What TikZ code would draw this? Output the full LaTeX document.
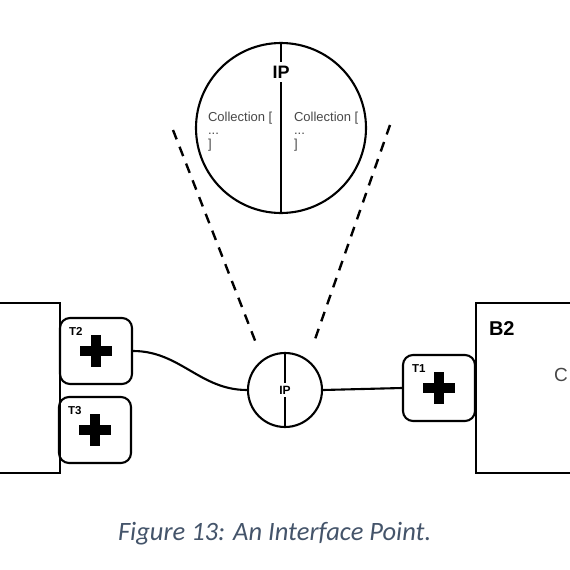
\documentclass[tikz,border=0pt]{standalone}
\usepackage{fontspec}
\setmainfont{Liberation Sans}
\newfontfamily\capfont{Carlito}
\usetikzlibrary{calc}
\usetikzlibrary{positioning}

\definecolor{captionblue}{HTML}{44546A}
\definecolor{textgray}{HTML}{474747}

\begin{document}
\begin{tikzpicture}[x=1pt, y=-1pt, line width=2.1pt,
    block/.style={rectangle, draw=black, minimum width=80pt, minimum height=170pt, inner sep=0pt},
    term/.style={rectangle, draw=black, rounded corners=10pt, minimum width=72pt, minimum height=66pt, inner sep=0pt},
    tlabel/.style={font=\fontsize{11.5}{12}\selectfont\bfseries, inner sep=0pt},
    ip/.style={circle, draw=black, inner sep=0pt},
    coll/.style={font=\fontsize{13}{13.5}\selectfont, text=textgray, align=left, anchor=north west, inner sep=0pt}]
    \clip (0, 0) rectangle (570, 570);
    % blocks
    \node[block] (B1) at (20, 388) {};
    \node[block, minimum width=124pt] (B2) at (538, 388) {};
    \node[font=\fontsize{20}{22}\selectfont\bfseries, anchor=west, inner sep=0pt] (B2name) at (488, 329) {B2};
    \node[font=\fontsize{19}{22}\selectfont, text=textgray, anchor=west, inner sep=0pt] (B2text) at (553, 375) {C};
    % terminals
    \foreach \n/\x/\y in {T2/96/351, T3/95/430, T1/439/388}
    {
        \node[term] (\n) at (\x, \y) {};
        \draw[line width=9.5pt] ($(\n) + (-16, 0)$) -- ($(\n) + (16, 0)$);
        \draw[line width=9.5pt] ($(\n) + (0, -16)$) -- ($(\n) + (0, 16)$);
        \node[tlabel, anchor=west] (lbl\n) at ($(\n.north west) + (9, 15)$) {\n};
    }
    % interface point
    \node[ip, minimum size=74pt] (ip) at (285, 390) {};
    \node[font=\fontsize{12}{12}\selectfont\bfseries, inner sep=2pt] (iptext) at (ip) {IP};
    \draw (ip.north) -- (iptext.north);
    \draw (iptext.south) -- (ip.south);
    \draw (T2.east) to[out=0, in=180] (ip.west);
    \draw (ip.east) -- (T1.west);
    % zoomed view
    \node[ip, minimum size=170pt] (ipbig) at (281, 128) {};
    \node[font=\fontsize{18}{18}\selectfont\bfseries, inner sep=3pt] (ipbigtext) at (281, 72) {IP};
    \draw (ipbig.north) -- (ipbigtext.north);
    \draw (ipbigtext.south) -- (ipbig.south);
    \node[coll] (collL) at (207, 111) {Collection [\\...\\]};
    \node[coll] (collR) at (293, 111) {Collection [\\...\\]};
    \coordinate (zl1) at (173, 130);
    \coordinate (zl2) at (256, 343);
    \coordinate (zr1) at (390, 125);
    \coordinate (zr2) at (313, 345);
    \draw[line width=2.4pt, dash pattern=on 10pt off 8pt] (zl1) -- (zl2);
    \draw[line width=2.4pt, dash pattern=on 10pt off 8pt] (zr1) -- (zr2);
    % caption
    \node[font=\capfont\itshape\fontsize{26.5}{28}\selectfont, text=captionblue, anchor=base west, inner sep=0pt] (caption) at (117, 540) {Figure 13: An Interface Point.};
\end{tikzpicture}
\end{document}
